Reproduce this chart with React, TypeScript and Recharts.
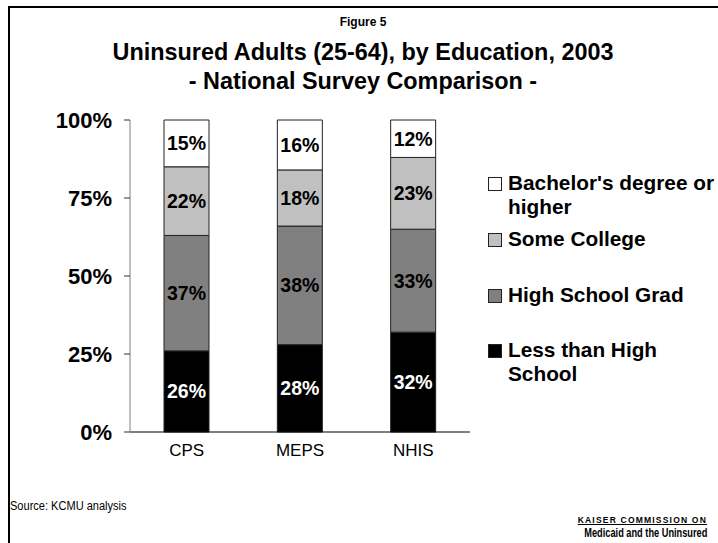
import React from "react";
import { BarChart, Bar, XAxis, YAxis, LabelList } from "recharts";

const surveys = ["CPS", "MEPS", "NHIS"];
const lessThanHighSchool = [26, 28, 32];
const highSchoolGrad = [37, 38, 33];
const someCollege = [22, 18, 23];
const bachelorsOrHigher = [15, 16, 12];
const yTicks = [0, 25, 50, 75, 100];

const series = [
  { key: "less", label: ["Less than High", "School"], color: "#000000", text: "#ffffff", values: lessThanHighSchool },
  { key: "hs", label: ["High School Grad"], color: "#808080", text: "#000000", values: highSchoolGrad },
  { key: "college", label: ["Some College"], color: "#c0c0c0", text: "#000000", values: someCollege },
  { key: "bach", label: ["Bachelor's degree or", "higher"], color: "#ffffff", text: "#000000", values: bachelorsOrHigher },
];

const data = surveys.map((name, i) => {
  const row: Record<string, string | number> = { name };
  series.forEach((s) => { row[s.key] = s.values[i]; });
  return row;
});

// legend is listed top-down, opposite of stack order
const legendRows = [
  { s: series[3], top: 171 },
  { s: series[2], top: 227 },
  { s: series[1], top: 283 },
  { s: series[0], top: 338 },
];

const font = "Arial, 'Liberation Sans', Helvetica, sans-serif";

export default function App() {
  return (
    <div style={{ position: "absolute", left: 0, top: 0, width: 718, height: 543, background: "#fff", fontFamily: font, overflow: "hidden" }}>
      {/* frame, cropped on the right and bottom */}
      <div style={{ position: "absolute", left: 8, top: 6, width: 710, height: 537, borderLeft: "2px solid #000", borderTop: "2px solid #000" }} />

      <div style={{ position: "absolute", left: 8, width: 710, top: 15, textAlign: "center", fontSize: 12, fontWeight: "bold" }}>Figure 5</div>
      <div style={{ position: "absolute", left: 8, width: 710, top: 38, textAlign: "center", fontSize: 23.4, fontWeight: "bold", lineHeight: "29px" }}>
        Uninsured Adults (25-64), by Education, 2003
        <br />- National Survey Comparison -
      </div>

      <BarChart width={718} height={543} data={data} margin={{ top: 120, right: 248, bottom: 81, left: 70 }} barCategoryGap="30%" style={{ position: "absolute", left: 0, top: 0 }}>
        <XAxis dataKey="name" height={30} tickLine={false} axisLine={{ stroke: "#000" }} tickSize={0} tickMargin={12}
          tick={{ fontSize: 17, fill: "#000", fontFamily: font }} />
        <YAxis width={60} domain={[0, 100]} ticks={yTicks} tickFormatter={(v: number) => `${v}%`} tickSize={6} tickMargin={12}
          axisLine={{ stroke: "#808080" }} tickLine={{ stroke: "#333" }}
          tick={{ fontSize: 22, fontWeight: "bold", fill: "#000", fontFamily: font }} />
        {series.map((s) => (
          <Bar key={s.key} dataKey={s.key} stackId="a" fill={s.color} stroke="#222" strokeWidth={1} isAnimationActive={false}>
            <LabelList dataKey={s.key} position="center" formatter={(v: number) => `${v}%`}
              style={{ fontSize: 19.5, fontWeight: "bold", fill: s.text, fontFamily: font }} />
          </Bar>
        ))}
      </BarChart>

      {legendRows.map(({ s, top }) => (
        <div key={s.key} style={{ position: "absolute", left: 488, top, display: "flex", alignItems: "flex-start" }}>
          <div style={{ width: 14, height: 14, marginTop: 6, background: s.color, border: "1px solid #222", boxSizing: "border-box" }} />
          <div style={{ marginLeft: 6, fontSize: 20.8, fontWeight: "bold", lineHeight: "24px", whiteSpace: "nowrap" }}>
            {s.label.map((l, i) => <div key={i}>{l}</div>)}
          </div>
        </div>
      ))}

      <div style={{ position: "absolute", left: 10, top: 499, fontSize: 12, transform: "scaleX(0.92)", transformOrigin: "left" }}>Source: KCMU analysis</div>
      <div style={{ position: "absolute", right: 11, top: 515, textAlign: "right" }}>
        <div style={{ fontSize: 8.5, fontWeight: "bold", letterSpacing: 1.2, textDecoration: "underline", lineHeight: "11px", whiteSpace: "nowrap" }}>KAISER COMMISSION ON</div>
        <div style={{ fontSize: 13, fontWeight: 900, lineHeight: "14px", whiteSpace: "nowrap", transform: "scaleX(0.71)", transformOrigin: "right" }}>Medicaid and the Uninsured</div>
      </div>
    </div>
  );
}
